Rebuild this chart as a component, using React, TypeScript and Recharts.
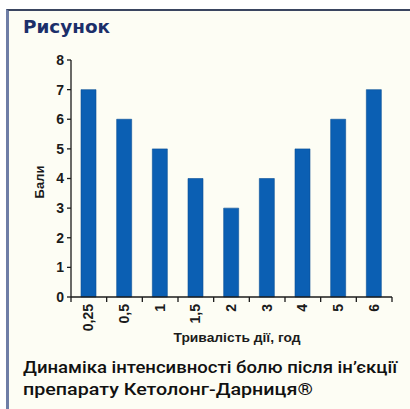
import React from "react";
import { BarChart, Bar, XAxis, YAxis } from "recharts";

const durations = ["0,25", "0,5", "1", "1,5", "2", "3", "4", "5", "6"];
const scores = [7, 6, 5, 4, 3, 4, 5, 6, 7];
const yTicks = [0, 1, 2, 3, 4, 5, 6, 7, 8];

const data = durations.map((d, i) => ({ d, v: scores[i] }));

const W = 410;
const H = 409;
const PLOT_LEFT = 71;
const PLOT_RIGHT = 392;
const PLOT_TOP = 60;
const PLOT_BOTTOM = 297;
const BAND = (PLOT_RIGHT - PLOT_LEFT) / durations.length;
const AXIS_FONT = "'Liberation Sans Narrow', 'Liberation Sans', Arial, sans-serif";
const INK = "#1b1b1b";

function XTick(props: any) {
  const { x, y, payload, index } = props;
  const last = index === durations.length - 1;
  return (
    <g>
      <line x1={x - BAND / 2} x2={x - BAND / 2} y1={y - 8} y2={y - 3} stroke={INK} strokeWidth={1.3} />
      {last && <line x1={x + BAND / 2} x2={x + BAND / 2} y1={y - 8} y2={y - 3} stroke={INK} strokeWidth={1.3} />}
      <text
        transform={`translate(${x + 4.5},${y - 1}) rotate(-90)`}
        textAnchor="end"
        fontFamily={AXIS_FONT}
        fontWeight="bold"
        fontSize={14}
        fill={INK}
      >
        {payload.value}
      </text>
    </g>
  );
}

export default function App() {
  return (
    <div style={{ position: "absolute", left: 0, top: 0, width: W, height: H, background: "#fff", overflow: "hidden" }}>
      <div
        style={{
          position: "absolute",
          left: 6,
          top: 9,
          right: 0,
          bottom: 0,
          background: "#fdfdf4",
          borderTop: "2px solid #3a4560",
          borderLeft: "3px solid #6e7da6",
        }}
      />
      <svg width={W} height={H} style={{ position: "absolute", left: 0, top: 0 }}>
        <text x={23} y={33} fontFamily="'DejaVu Sans', sans-serif" fontWeight="bold" fontSize={17} fill="#1c2f6a" textLength={87} lengthAdjust="spacingAndGlyphs">
          Рисунок
        </text>
        <text x={23} y={373} fontFamily="Roboto, 'Liberation Sans', sans-serif" fontWeight={500} fontSize={17} fill="#111" textLength={374} lengthAdjust="spacingAndGlyphs">
          Динаміка інтенсивності болю після ін’єкції
        </text>
        <text x={23} y={395} fontFamily="Roboto, 'Liberation Sans', sans-serif" fontWeight={500} fontSize={17} fill="#111" textLength={290} lengthAdjust="spacingAndGlyphs">
          препарату Кетолонг-Дарниця®
        </text>
      </svg>
      <div style={{ position: "absolute", left: 0, top: 0 }}>
        <BarChart
          width={W}
          height={H}
          data={data}
          margin={{ top: PLOT_TOP, right: W - PLOT_RIGHT, bottom: H - PLOT_BOTTOM - 40, left: 31 }}
          barSize={15}
        >
          <YAxis
            width={40}
            domain={[0, 8]}
            ticks={yTicks}
            interval={0}
            axisLine={{ stroke: INK, strokeWidth: 1.3 }}
            tickLine={{ stroke: INK, strokeWidth: 1.3 }}
            tickSize={4}
            tickMargin={3}
            tick={{ fill: INK, fontSize: 14, fontWeight: "bold", fontFamily: AXIS_FONT }}
            label={{
              content: () => (
                <text transform="translate(44,182) rotate(-90)" textAnchor="middle" fontFamily={AXIS_FONT} fontWeight="bold" fontSize={13} fill={INK}>
                  Бали
                </text>
              ),
            }}
          />
          <XAxis
            dataKey="d"
            height={40}
            interval={0}
            axisLine={{ stroke: INK, strokeWidth: 1.3 }}
            tickLine={false}
            tick={<XTick />}
            label={{
              content: () => (
                <text x={237} y={342} textAnchor="middle" fontFamily={AXIS_FONT} fontWeight="bold" fontSize={13} fill={INK} textLength={127} lengthAdjust="spacingAndGlyphs">
                  Тривалість дії, год
                </text>
              ),
            }}
          />
          <Bar dataKey="v" fill="#0b5fb3" stroke="#0a4f96" strokeWidth={0.6} isAnimationActive={false} />
        </BarChart>
      </div>
    </div>
  );
}
